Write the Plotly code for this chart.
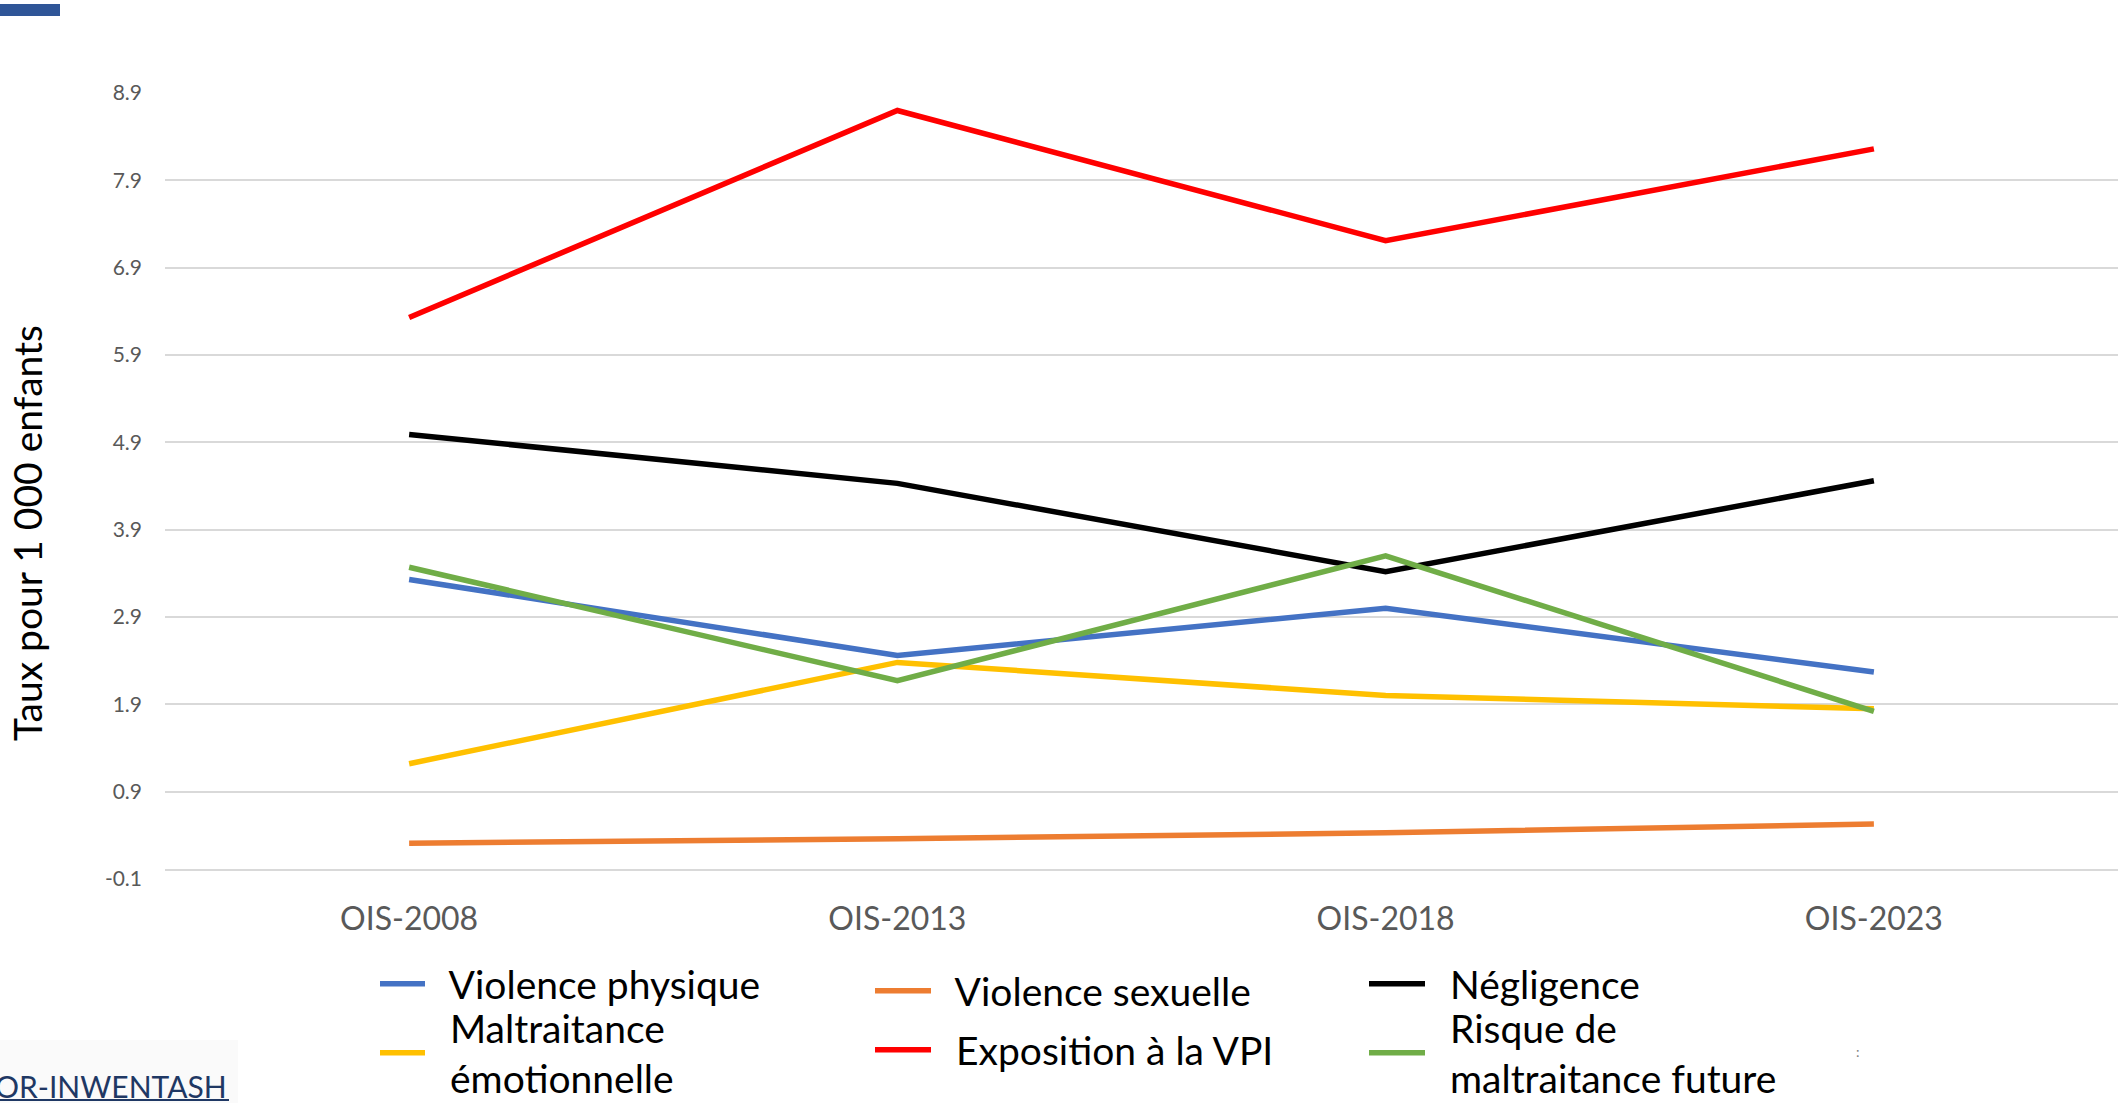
import plotly.graph_objects as go

W, H = 2118, 1103

categories = ["OIS-2008", "OIS-2013", "OIS-2018", "OIS-2023"]

violence_physique = [3.33, 2.46, 3.00, 2.27]
violence_sexuelle = [0.31, 0.36, 0.43, 0.53]
negligence = [4.99, 4.43, 3.42, 4.46]
maltraitance_emotionnelle = [1.22, 2.38, 2.00, 1.85]
exposition_vpi = [6.33, 8.70, 7.21, 8.26]
risque_future = [3.47, 2.17, 3.60, 1.82]

y_ticks = [-0.1, 0.9, 1.9, 2.9, 3.9, 4.9, 5.9, 6.9, 7.9, 8.9]

series_names = ["Violence physique", "Violence sexuelle", "Négligence",
                "Maltraitance<br>émotionnelle", "Exposition à la VPI",
                "Risque de<br>maltraitance future"]
series_values = [violence_physique, violence_sexuelle, negligence,
                 maltraitance_emotionnelle, exposition_vpi, risque_future]
series_colors = ["#4472C4", "#ED7D31", "#000000", "#FFC000", "#FF0000", "#70AD47"]

# legend placement (one legend per entry): left x of legend box, symbol centre y, symbol width
legend_ids = ["legend", "legend2", "legend3", "legend4", "legend5", "legend6"]
legend_pos = [(375, 984, 45), (870, 991, 56), (1364, 984, 56),
              (375, 1053, 45), (870, 1050, 56), (1364, 1053, 56)]

FONT = "Lato"
PAD = "\u00a0\u00a0"

fig = go.Figure()
for name, vals, color, leg in zip(series_names, series_values, series_colors, legend_ids):
    label = "<br>".join(PAD + part for part in name.split("<br>"))
    fig.add_trace(go.Scatter(
        x=categories, y=vals, name=label, mode="lines",
        line=dict(color=color, width=5.5), legend=leg,
    ))

# plot area geometry (px)
L, R, T, B = 165, 0, 93, 224
pw = W - L - R
ph = H - T - B


def px_x(x):
    return (x - L) / pw


def px_y(y):
    return (H - B - y) / ph


legends = {}
for leg, (lx, ly, iw) in zip(legend_ids, legend_pos):
    legends[leg] = dict(
        orientation="v", xref="container", yref="container",
        x=lx / W, y=1 - ly / H, xanchor="left", yanchor="middle",
        font=dict(family=FONT, size=39, color="#000000"),
        itemwidth=iw, bgcolor="rgba(0,0,0,0)", valign="middle",
        itemclick=False, itemdoubleclick=False,
    )

fig.update_layout(
    width=W, height=H,
    margin=dict(l=L, r=R, t=T, b=B, autoexpand=False),
    paper_bgcolor="white", plot_bgcolor="white",
    font=dict(family=FONT),
    showlegend=True,
    **legends,
    xaxis=dict(
        type="category", range=[-0.5, 3.5], showgrid=False, zeroline=False,
        showline=False, ticks="",
        tickfont=dict(family=FONT, size=32, color="#595959"),
        ticklabelstandoff=18,
    ),
    yaxis=dict(
        range=[-0.1, 8.9], tickmode="array", tickvals=y_ticks,
        ticktext=[f"{v:.1f}" for v in y_ticks],
        showgrid=True, gridcolor="#D9D9D9", gridwidth=1.5,
        zeroline=True, zerolinecolor="#D9D9D9", zerolinewidth=1.5,
        showline=False, ticks="",
        tickfont=dict(family=FONT, size=21, color="#595959"),
        ticklabelstandoff=22,
    ),
    annotations=[
        dict(text="Taux pour 1 000 enfants", textangle=-90,
             xref="paper", yref="paper", x=px_x(27), y=px_y(533),
             xanchor="center", yanchor="middle", showarrow=False,
             font=dict(family=FONT, size=39, color="#000000")),
        dict(text="OR-INWENTASH", xref="paper", yref="paper",
             x=px_x(229), y=px_y(1086), xanchor="right", yanchor="middle",
             showarrow=False,
             font=dict(family=FONT, size=30, color="#1F3864")),
        dict(text=":", xref="paper", yref="paper",
             x=px_x(1858), y=px_y(1051), xanchor="center", yanchor="middle",
             showarrow=False,
             font=dict(family=FONT, size=14, color="#808080")),
    ],
    shapes=[
        dict(type="rect", xref="paper", yref="paper",
             x0=px_x(0), x1=px_x(60), y0=px_y(4), y1=px_y(16),
             fillcolor="#2F5597", line=dict(width=0), layer="above"),
        dict(type="rect", xref="paper", yref="paper",
             x0=px_x(0), x1=px_x(238), y0=px_y(1040), y1=px_y(1103),
             fillcolor="#FAFAFA", line=dict(width=0), layer="below"),
        dict(type="line", xref="paper", yref="paper",
             x0=px_x(0), x1=px_x(229), y0=px_y(1100), y1=px_y(1100),
             line=dict(color="#1F3864", width=2), layer="above"),
    ],
)

fig.write_html(
    "out.html",
    config={"displayModeBar": False},
    post_script="document.body.style.margin='0';document.body.style.overflow='hidden';",
)
